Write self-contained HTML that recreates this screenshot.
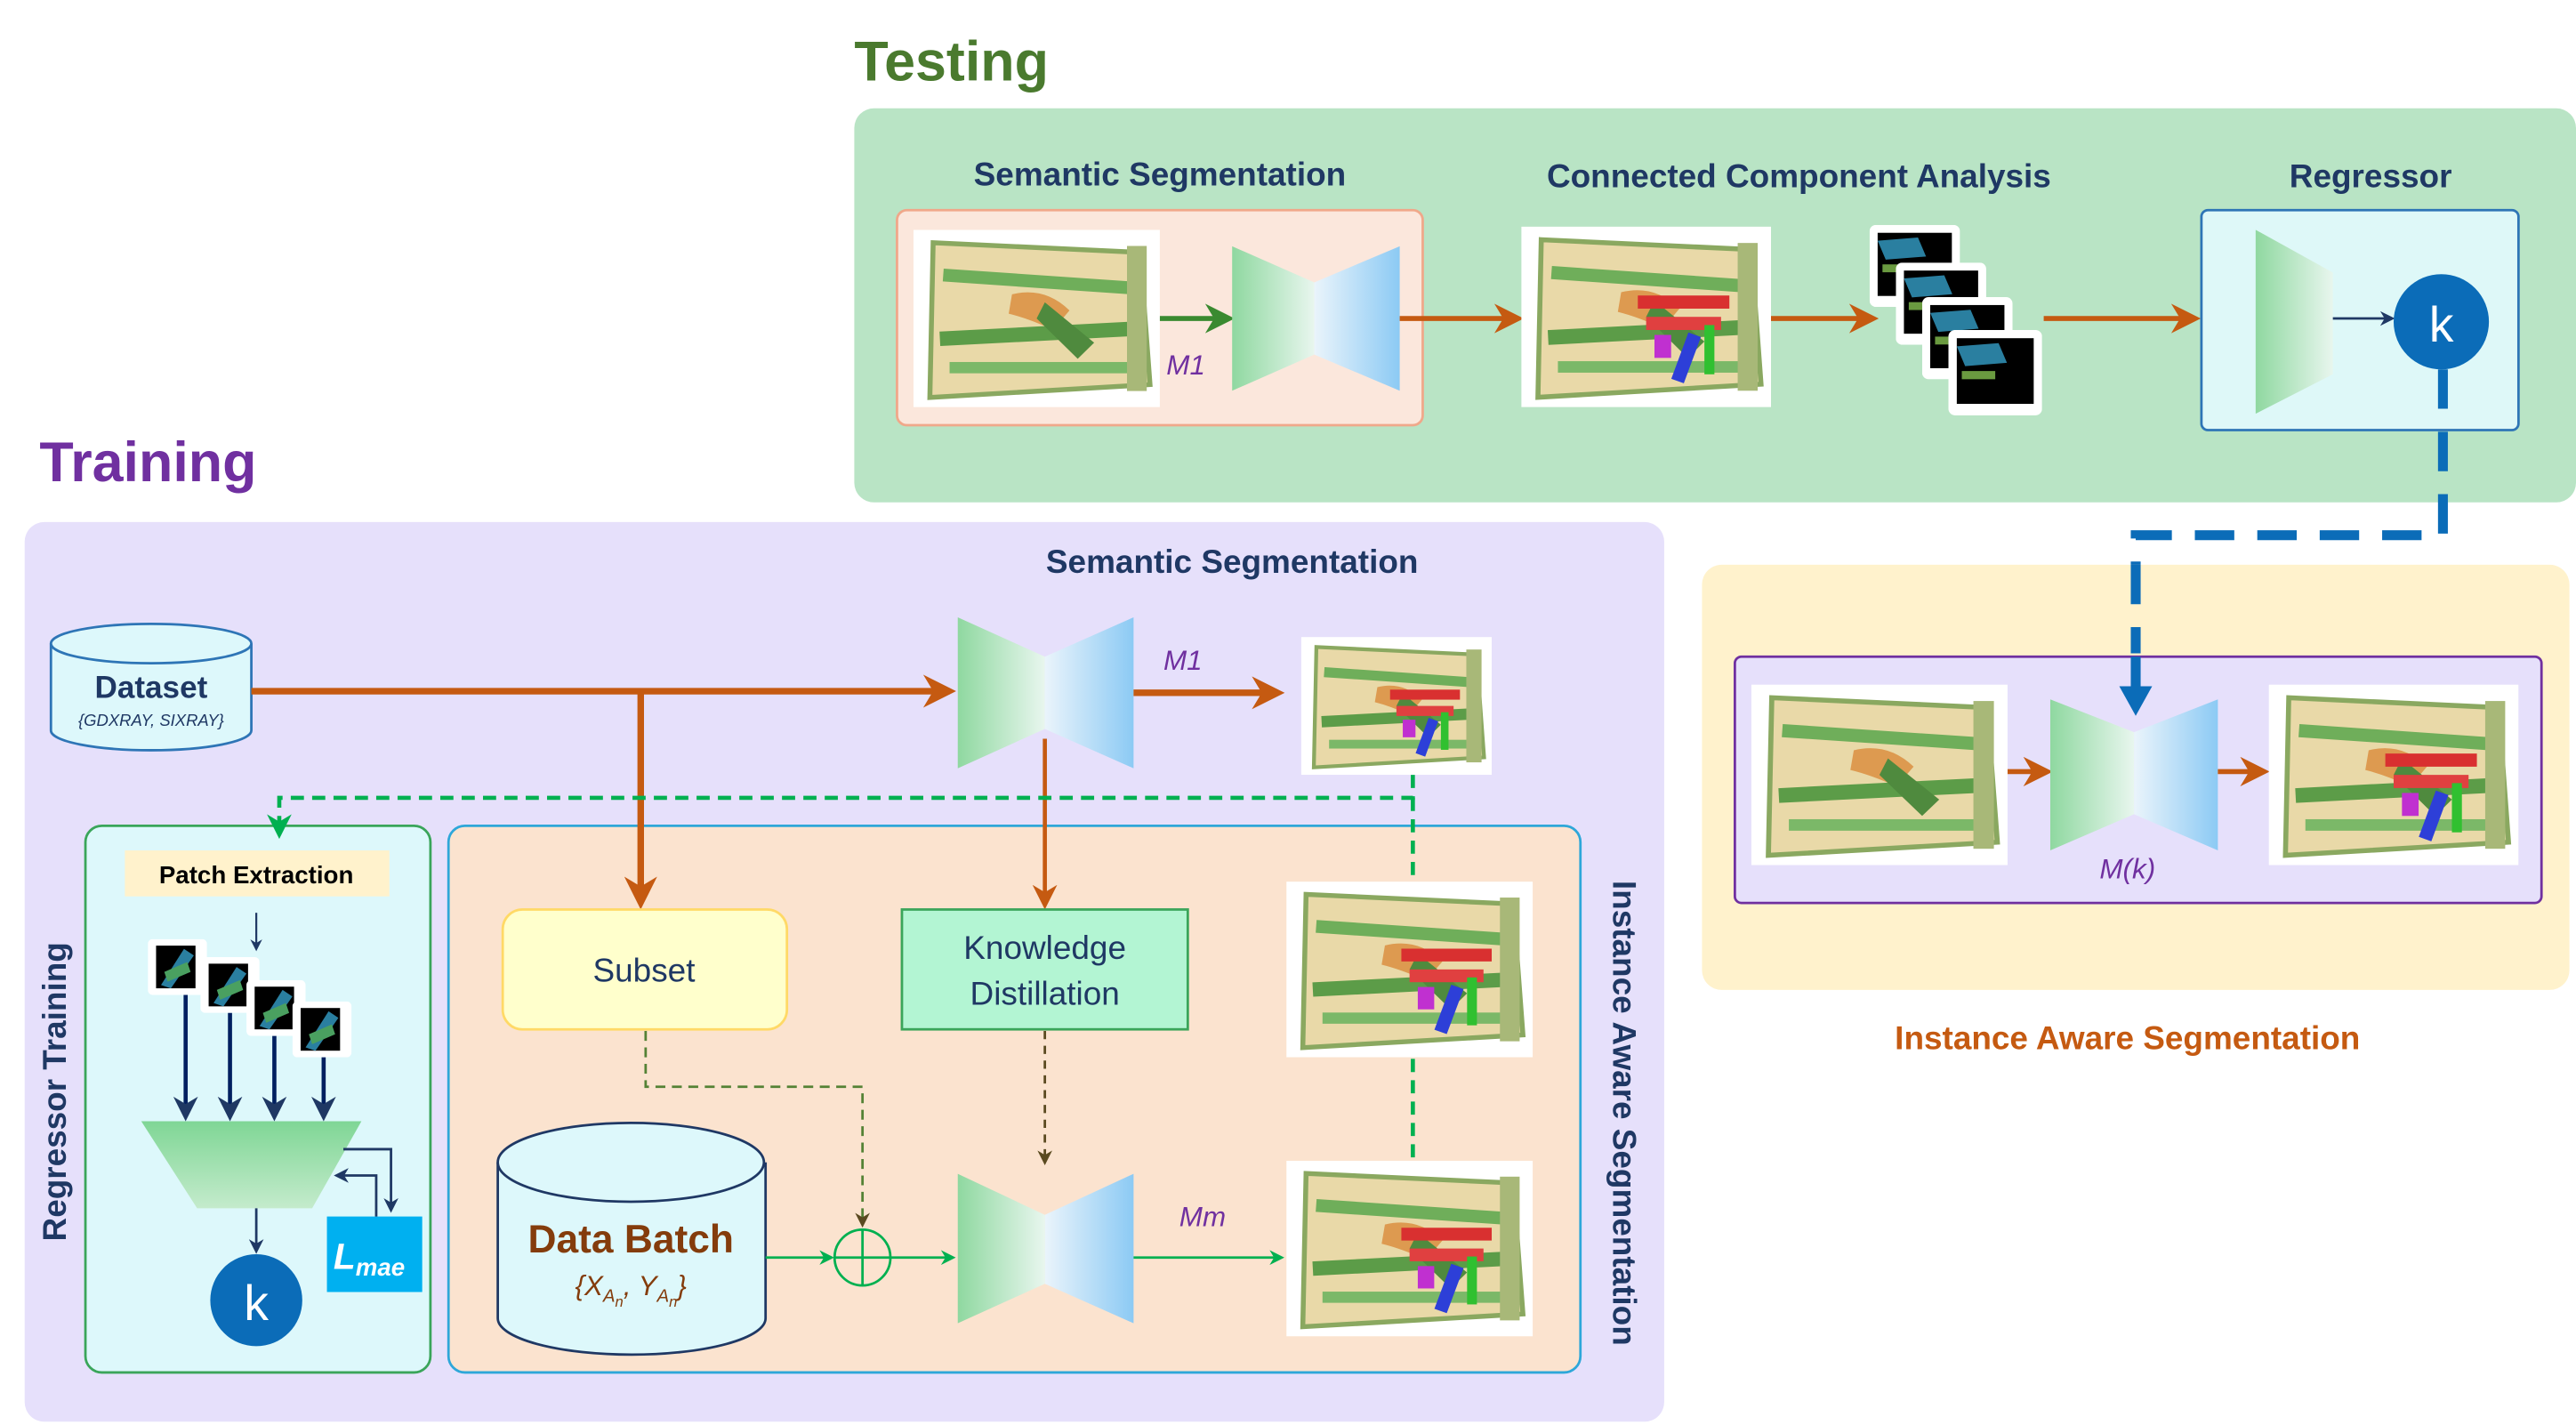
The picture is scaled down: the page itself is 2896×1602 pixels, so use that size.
<!DOCTYPE html>
<html><head><meta charset="utf-8"><style>
html,body{margin:0;padding:0;background:#fff;}
svg{display:block;}
text{font-family:"Liberation Sans",sans-serif;}
</style></head><body>
<svg width="2896" height="1602" viewBox="0 0 1568 868" preserveAspectRatio="none" xmlns="http://www.w3.org/2000/svg">
<defs>
<linearGradient id="gl" x1="0" x2="1" y1="0" y2="0"><stop offset="0" stop-color="#8fd8a0"/><stop offset="1" stop-color="#e8f6ee"/></linearGradient>
<linearGradient id="gr" x1="0" x2="1" y1="0" y2="0"><stop offset="0" stop-color="#eaf4fb"/><stop offset="1" stop-color="#8ccaf4"/></linearGradient>
<linearGradient id="gv" x1="0" x2="0" y1="0" y2="1"><stop offset="0" stop-color="#7fd695"/><stop offset="1" stop-color="#c4ebcc"/></linearGradient>
<symbol id="xr" viewBox="0 0 150 110" preserveAspectRatio="none">
<rect width="150" height="110" fill="#fff"/>
<path d="M12 8 L138 14 L144 96 L10 104 Z" fill="#e9d9a8" stroke="#8aa860" stroke-width="3"/>
<rect x="18" y="28" width="115" height="8" fill="#6fae5a" transform="rotate(4 75 32)"/>
<rect x="16" y="60" width="120" height="9" fill="#5c9c48" transform="rotate(-3 75 64)"/>
<rect x="22" y="82" width="110" height="7" fill="#7bb868"/>
<path d="M60 40 Q80 35 95 50 L85 62 Q70 55 58 52 Z" fill="#d98a3a" opacity=".8"/>
<path d="M80 45 L110 70 L100 80 L75 55 Z" fill="#4f8a3e"/>
<rect x="130" y="10" width="12" height="90" fill="#a8b878"/>
</symbol>
<symbol id="xs" viewBox="0 0 150 110" preserveAspectRatio="none">
<use href="#xr" width="150" height="110"/>
<rect x="70" y="42" width="55" height="8" fill="#d93030"/>
<rect x="75" y="55" width="45" height="8" fill="#e04040"/>
<rect x="95" y="65" width="8" height="30" fill="#2d3fd8" transform="rotate(20 99 80)"/>
<rect x="80" y="66" width="10" height="14" fill="#c030d0"/>
<rect x="110" y="60" width="6" height="30" fill="#30c030"/>
</symbol>
<symbol id="pt" viewBox="0 0 36 34" preserveAspectRatio="none">
<rect width="36" height="34" rx="3" fill="#fff"/><rect x="5" y="4" width="24" height="26" fill="#000"/>
<path d="M8 28 L22 6 L28 10 L14 30 Z" fill="#2a7fa0"/><path d="M10 20 L24 14 L26 20 L12 26Z" fill="#4aa060"/>
</symbol>
<symbol id="bk" viewBox="0 0 56 52" preserveAspectRatio="none">
<rect width="56" height="52" rx="4" fill="#fff"/><rect x="5" y="5" width="46" height="40" fill="#000"/>
<path d="M5 10 L30 8 L35 20 L10 22Z" fill="#2a7fa0"/><rect x="8" y="25" width="20" height="5" fill="#6a9a40"/>
</symbol>
<marker id="ao" viewBox="0 0 10 10" refX="8" refY="5" markerWidth="5" markerHeight="5" orient="auto"><path d="M0 0L10 5L0 10L3 5Z" fill="#c55a11"/></marker>
<marker id="aos" viewBox="0 0 10 10" refX="8" refY="5" markerWidth="6" markerHeight="6" orient="auto"><path d="M0 0L10 5L0 10L3 5Z" fill="#c55a11"/></marker>
<marker id="ag" viewBox="0 0 10 10" refX="8" refY="5" markerWidth="6" markerHeight="6" orient="auto"><path d="M0 0L10 5L0 10L3 5Z" fill="#3a8a30"/></marker>
<marker id="agb" viewBox="0 0 10 10" refX="8" refY="5" markerWidth="6" markerHeight="6" orient="auto"><path d="M0 0L10 5L0 10L3 5Z" fill="#00b050"/></marker>
<marker id="an" viewBox="0 0 10 10" refX="8" refY="5" markerWidth="6" markerHeight="6" orient="auto"><path d="M0 0L10 5L0 10L3 5Z" fill="#1f3864"/></marker>
<marker id="ad" viewBox="0 0 10 10" refX="8" refY="5" markerWidth="6" markerHeight="6" orient="auto"><path d="M0 0L10 5L0 10L3 5Z" fill="#5a4a20"/></marker>
</defs>

<!-- Testing -->
<text x="520" y="49" font-size="34" font-weight="bold" fill="#4a7a2e">Testing</text>
<rect x="520" y="66" width="1048" height="240" rx="12" fill="#b9e4c5"/>
<text x="706" y="113" font-size="20" font-weight="bold" fill="#1f3864" text-anchor="middle">Semantic Segmentation</text>
<rect x="546" y="128" width="320" height="131" rx="6" fill="#fbe7dc" stroke="#f0a88a" stroke-width="1.5"/>
<use href="#xr" x="556" y="140" width="150" height="108"/>
<line x1="706" y1="194" x2="748" y2="194" stroke="#3a8a30" stroke-width="3" marker-end="url(#ag)"/>
<text x="710" y="228" font-size="17" font-style="italic" fill="#7030a0">M1</text>
<path d="M750 150 L800 172 L800 216 L750 238Z" fill="url(#gl)"/>
<path d="M800 172 L852 150 L852 238 L800 216Z" fill="url(#gr)"/>
<line x1="852" y1="194" x2="924" y2="194" stroke="#c55a11" stroke-width="3" marker-end="url(#aos)"/>
<text x="1095" y="114" font-size="20" font-weight="bold" fill="#1f3864" text-anchor="middle">Connected Component Analysis</text>
<use href="#xs" x="926" y="138" width="152" height="110"/>
<line x1="1078" y1="194" x2="1140" y2="194" stroke="#c55a11" stroke-width="3" marker-end="url(#aos)"/>
<use href="#bk" x="1138" y="137" width="55" height="50"/>
<use href="#bk" x="1154" y="160" width="55" height="50"/>
<use href="#bk" x="1170" y="181" width="55" height="50"/>
<use href="#bk" x="1186" y="201" width="57" height="52"/>
<line x1="1244" y1="194" x2="1336" y2="194" stroke="#c55a11" stroke-width="3" marker-end="url(#aos)"/>
<text x="1443" y="114" font-size="20" font-weight="bold" fill="#1f3864" text-anchor="middle">Regressor</text>
<rect x="1340" y="128" width="193" height="134" rx="4" fill="#def8f8" stroke="#2e75b6" stroke-width="1.5"/>
<path d="M1373 140 L1420 166 L1420 228 L1373 252Z" fill="url(#gl)"/>
<line x1="1420" y1="194" x2="1456" y2="194" stroke="#1f3864" stroke-width="1.5" marker-end="url(#an)"/>
<circle cx="1486" cy="196" r="29" fill="#0b6cb8"/>
<text x="1486" y="208" font-size="30" fill="#fff" text-anchor="middle">k</text>
<path d="M1487 225 L1487 326 L1300 326 L1300 425" fill="none" stroke="#0b6cb8" stroke-width="6" stroke-dasharray="24 14"/>

<!-- Instance aware (test) -->
<rect x="1036" y="344" width="528" height="259" rx="12" fill="#fff2cc"/>
<path d="M1300 344 L1300 398" stroke="#0b6cb8" stroke-width="6" stroke-dasharray="24 14"/>
<rect x="1056" y="400" width="491" height="150" rx="4" fill="#e6e0fb" stroke="#7030a0" stroke-width="1.5"/>
<line x1="1300" y1="400" x2="1300" y2="420" stroke="#0b6cb8" stroke-width="6"/>
<path d="M1290 418 L1310 418 L1300 436Z" fill="#0b6cb8"/>
<use href="#xr" x="1066" y="417" width="156" height="110"/>
<line x1="1222" y1="470" x2="1246" y2="470" stroke="#c55a11" stroke-width="3" marker-end="url(#aos)"/>
<path d="M1248 426 L1299 446 L1299 496 L1248 518Z" fill="url(#gl)"/>
<path d="M1299 446 L1350 426 L1350 518 L1299 496Z" fill="url(#gr)"/>
<line x1="1350" y1="470" x2="1378" y2="470" stroke="#c55a11" stroke-width="3" marker-end="url(#aos)"/>
<use href="#xs" x="1381" y="417" width="152" height="110"/>
<text x="1295" y="535" font-size="17" font-style="italic" fill="#7030a0" text-anchor="middle">M(k)</text>
<text x="1295" y="639" font-size="20" font-weight="bold" fill="#c55a11" text-anchor="middle">Instance Aware Segmentation</text>

<!-- Training -->
<text x="24" y="293" font-size="34" font-weight="bold" fill="#7030a0">Training</text>
<rect x="15" y="318" width="998" height="548" rx="12" fill="#e6e0fb"/>
<text x="750" y="349" font-size="20" font-weight="bold" fill="#1f3864" text-anchor="middle">Semantic Segmentation</text>
<path d="M31 392 L31 445 A61 12 0 0 0 153 445 L153 392" fill="#ddf8fb" stroke="#2e75b6" stroke-width="1.5"/>
<ellipse cx="92" cy="392" rx="61" ry="12" fill="#ddf8fb" stroke="#2e75b6" stroke-width="1.5"/>
<text x="92" y="425" font-size="19" font-weight="bold" fill="#1f3864" text-anchor="middle">Dataset</text>
<text x="92" y="442" font-size="10" font-style="italic" fill="#1f3864" text-anchor="middle" font-family="Liberation Serif">{GDXRAY, SIXRAY}</text>
<line x1="153" y1="421" x2="578" y2="421" stroke="#c55a11" stroke-width="4" marker-end="url(#ao)"/>
<path d="M583 376 L636 400 L636 444 L583 468Z" fill="url(#gl)"/>
<path d="M636 400 L690 376 L690 468 L636 444Z" fill="url(#gr)"/>
<line x1="690" y1="422" x2="778" y2="422" stroke="#c55a11" stroke-width="4" marker-end="url(#ao)"/>
<text x="720" y="408" font-size="17" font-style="italic" fill="#7030a0" text-anchor="middle">M1</text>
<use href="#xs" x="792" y="388" width="116" height="84"/>

<rect x="52" y="503" width="210" height="333" rx="10" fill="#ddf8fb" stroke="#3aa55a" stroke-width="1.5"/>
<rect x="273" y="503" width="689" height="333" rx="10" fill="#fbe3cf" stroke="#2ea7d9" stroke-width="1.5"/>
<line x1="390" y1="421" x2="390" y2="550" stroke="#c55a11" stroke-width="4" marker-end="url(#ao)"/>
<line x1="636" y1="450" x2="636" y2="551" stroke="#c55a11" stroke-width="2.5" marker-end="url(#aos)"/>
<path d="M860 472 L860 486 L170 486 L170 508" fill="none" stroke="#00b050" stroke-width="2.5" stroke-dasharray="8 5" marker-end="url(#agb)"/>
<path d="M860 486 L860 540 M860 645 L860 707" fill="none" stroke="#00b050" stroke-width="2.5" stroke-dasharray="8 5"/>

<!-- regressor training -->
<text transform="translate(40 665) rotate(-90)" font-size="20" font-weight="bold" fill="#1f3864" text-anchor="middle">Regressor Training</text>
<rect x="76" y="518" width="161" height="28" fill="#fff2cc"/>
<text x="156" y="538" font-size="15" font-weight="bold" fill="#000" text-anchor="middle">Patch Extraction</text>
<line x1="156" y1="556" x2="156" y2="578" stroke="#1f3864" stroke-width="1.2" marker-end="url(#an)"/>
<use href="#pt" x="90" y="572" width="36" height="34"/>
<use href="#pt" x="122" y="583" width="36" height="34"/>
<use href="#pt" x="150" y="597" width="36" height="34"/>
<use href="#pt" x="178" y="610" width="36" height="34"/>
<g stroke="#002060" stroke-width="2.5">
<line x1="113" y1="606" x2="113" y2="680" marker-end="url(#an)"/>
<line x1="140" y1="617" x2="140" y2="680" marker-end="url(#an)"/>
<line x1="167" y1="631" x2="167" y2="680" marker-end="url(#an)"/>
<line x1="197" y1="644" x2="197" y2="680" marker-end="url(#an)"/>
</g>
<path d="M86 683 L220 683 L190 736 L120 736Z" fill="url(#gv)"/>
<line x1="156" y1="736" x2="156" y2="762" stroke="#1f3864" stroke-width="1.5" marker-end="url(#an)"/>
<circle cx="156" cy="792" r="28" fill="#0b6cb8"/>
<text x="156" y="804" font-size="30" fill="#fff" text-anchor="middle">k</text>
<rect x="199" y="741" width="58" height="46" fill="#00b0f0"/>
<text x="203" y="773" font-size="22" font-style="italic" font-weight="bold" fill="#fff" font-family="Liberation Serif">L<tspan font-size="15" dy="4">mae</tspan></text>
<path d="M209 700 L238 700 L238 737" fill="none" stroke="#1f3864" stroke-width="1.5" marker-end="url(#an)"/>
<path d="M229 741 L229 716 L205 716" fill="none" stroke="#1f3864" stroke-width="1.5" marker-end="url(#an)"/>

<!-- Instance aware training -->
<text transform="translate(982 678) rotate(90)" font-size="20" font-weight="bold" fill="#1f3864" text-anchor="middle">Instance Aware Segmentation</text>
<rect x="306" y="554" width="173" height="73" rx="12" fill="#ffffcc" stroke="#ffd966" stroke-width="1.5"/>
<text x="392" y="598" font-size="20" fill="#1f3864" text-anchor="middle">Subset</text>
<rect x="549" y="554" width="174" height="73" fill="#b3f5d3" stroke="#3aa55a" stroke-width="1.5"/>
<text x="636" y="584" font-size="20" fill="#1f3864" text-anchor="middle">Knowledge</text>
<text x="636" y="612" font-size="20" fill="#1f3864" text-anchor="middle">Distillation</text>
<use href="#xs" x="783" y="537" width="150" height="107"/>
<path d="M393 628 L393 662 L525 662 L525 746" fill="none" stroke="#548235" stroke-width="1.5" stroke-dasharray="6 4" marker-end="url(#ad)"/>
<path d="M636 628 L636 708" fill="none" stroke="#5a4a20" stroke-width="1.5" stroke-dasharray="5 4" marker-end="url(#ad)"/>
<path d="M303 708 L303 803 A81 22 0 0 0 466 803 L466 708" fill="#ddf8fb" stroke="#1f3864" stroke-width="1.5"/>
<ellipse cx="384" cy="708" rx="81" ry="24" fill="#ddf8fb" stroke="#1f3864" stroke-width="1.5"/>
<text x="384" y="763" font-size="24" font-weight="bold" fill="#843c0c" text-anchor="middle">Data Batch</text>
<text x="384" y="789" font-size="17" font-style="italic" fill="#843c0c" text-anchor="middle" font-family="Liberation Serif">{X<tspan font-size="11" dy="4">A</tspan><tspan font-size="9" dy="3">n</tspan><tspan dy="-7">, Y</tspan><tspan font-size="11" dy="4">A</tspan><tspan font-size="9" dy="3">n</tspan><tspan dy="-7">}</tspan></text>
<line x1="466" y1="766" x2="506" y2="766" stroke="#00b050" stroke-width="1.5" marker-end="url(#agb)"/>
<circle cx="525" cy="766" r="17" fill="none" stroke="#00b050" stroke-width="1.5"/>
<path d="M508 766 L542 766 M525 749 L525 783" stroke="#00b050" stroke-width="1.5"/>
<line x1="542" y1="766" x2="580" y2="766" stroke="#00b050" stroke-width="1.5" marker-end="url(#agb)"/>
<path d="M583 715 L636 740 L636 782 L583 806Z" fill="url(#gl)"/>
<path d="M636 740 L690 715 L690 806 L636 782Z" fill="url(#gr)"/>
<line x1="690" y1="766" x2="780" y2="766" stroke="#00b050" stroke-width="1.5" marker-end="url(#agb)"/>
<text x="732" y="747" font-size="17" font-style="italic" fill="#7030a0" text-anchor="middle">Mm</text>
<use href="#xs" x="783" y="707" width="150" height="107"/>
</svg>
</body></html>
